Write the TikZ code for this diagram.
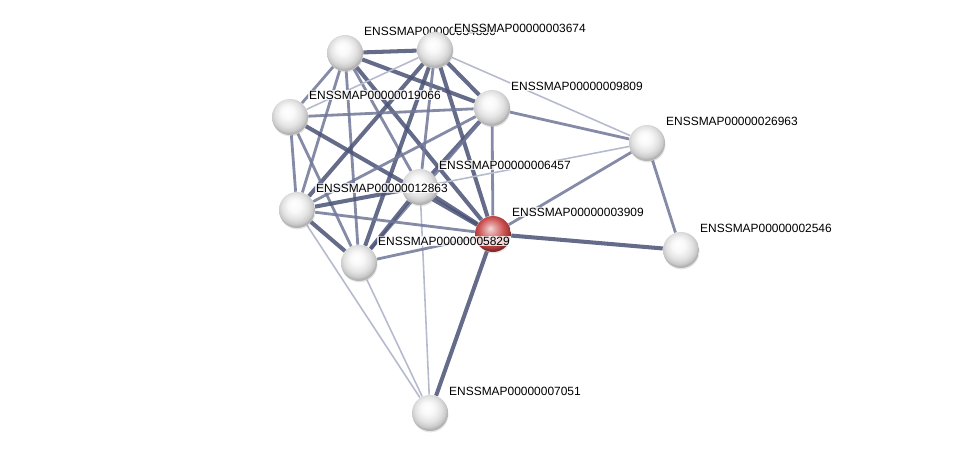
\documentclass[tikz,border=0pt]{standalone}
\usepackage{fontspec}
\setmainfont{Liberation Sans}
\usepackage{xcolor}
\usetikzlibrary{shadows,backgrounds}

\definecolor{edgedark}{RGB}{74,82,118}
\definecolor{edgemid}{RGB}{112,119,152}
\definecolor{edgelight}{RGB}{182,186,206}
\definecolor{redball}{RGB}{200,66,66}

\pgfdeclareradialshading{protball}{\pgfpoint{-4bp}{8bp}}{color(0bp)=(white); color(9bp)=(white!95!gray); color(18bp)=(gray!22); color(24bp)=(gray!42); color(26bp)=(gray!60); color(50bp)=(gray!60)}
\pgfdeclareradialshading{queryball}{\pgfpoint{-4bp}{8bp}}{color(0bp)=(white!80!redball); color(8bp)=(redball!55!white); color(17bp)=(redball!90!white); color(24bp)=(redball!85!black); color(26bp)=(redball!65!black); color(50bp)=(redball!65!black)}

\begin{document}
\begin{tikzpicture}[
    x=0.02cm, y=-0.02cm,
    prot/.style={circle, minimum size=0.72cm, inner sep=0pt, shading=protball, drop shadow={opacity=0.2, shadow xshift=0.3pt, shadow yshift=-0.8pt}},
    query/.style={prot, shading=queryball},
    lbl/.style={font=\fontsize{6.8}{8}\selectfont, fill=white, fill opacity=0.8, text opacity=1, inner sep=0.6pt, anchor=west, label distance=0.2cm},
    strong/.style={draw=edgedark, line width=2.3pt, opacity=0.85},
    medium/.style={draw=edgemid, line width=1.6pt, opacity=0.85},
    weak/.style={draw=edgelight, line width=0.9pt}
]
    \useasboundingbox (0,0) rectangle (975,458);

    % proteins
    \node [prot, label={[lbl]51:ENSSMAP00000034856}] (n4856) at (345,53) {};
    \node [prot, label={[lbl]51:ENSSMAP00000003674}] (n3674) at (435,50) {};
    \node [prot, label={[lbl]51:ENSSMAP00000019066}] (n9066) at (290,117) {};
    \node [prot, label={[lbl]51:ENSSMAP00000009809}] (n9809) at (492,108) {};
    \node [prot, label={[lbl]51:ENSSMAP00000026963}] (n6963) at (647,143) {};
    \node [prot, label={[lbl]51:ENSSMAP00000006457}] (n6457) at (420,187) {};
    \node [prot, label={[lbl]51:ENSSMAP00000012863}] (n2863) at (297,210) {};
    \node [prot, label={[lbl]51:ENSSMAP00000002546}] (n2546) at (681,250) {};
    \node [query, label={[lbl]51:ENSSMAP00000003909}] (n3909) at (493,234) {};
    \node [prot, label={[lbl]51:ENSSMAP00000005829}] (n5829) at (359,263) {};
    \node [prot, label={[lbl]51:ENSSMAP00000007051}] (n7051) at (430,413) {};

    % interactions
    \begin{scope}[on background layer]
    \draw [strong] (n4856) -- (n3674);
    \draw [medium] (n4856) -- (n9066);
    \draw [strong] (n4856) -- (n9809);
    \draw [medium] (n4856) -- (n6457);
    \draw [medium] (n4856) -- (n2863);
    \draw [medium] (n4856) -- (n5829);
    \draw [strong] (n4856) -- (n3909);
    \draw [weak] (n3674) -- (n9066);
    \draw [strong] (n3674) -- (n9809);
    \draw [weak] (n3674) -- (n6963);
    \draw [medium] (n3674) -- (n6457);
    \draw [strong] (n3674) -- (n2863);
    \draw [strong] (n3674) -- (n5829);
    \draw [strong] (n3674) -- (n3909);
    \draw [medium] (n9066) -- (n9809);
    \draw [medium] (n9066) -- (n2863);
    \draw [medium] (n9066) -- (n5829);
    \draw [strong] (n9066) -- (n3909);
    \draw [medium] (n9809) -- (n6963);
    \draw [strong] (n9809) -- (n6457);
    \draw [medium] (n9809) -- (n2863);
    \draw [medium] (n9809) -- (n5829);
    \draw [medium] (n9809) -- (n3909);
    \draw [weak] (n6963) -- (n6457);
    \draw [medium] (n6963) -- (n3909);
    \draw [medium] (n6963) -- (n2546);
    \draw [strong] (n6457) -- (n2863);
    \draw [strong] (n6457) -- (n5829);
    \draw [strong] (n6457) -- (n3909);
    \draw [weak] (n6457) -- (n7051);
    \draw [medium] (n2863) -- (n3909);
    \draw [strong] (n2863) -- (n5829);
    \draw [weak] (n2863) -- (n7051);
    \draw [medium] (n5829) -- (n3909);
    \draw [weak] (n5829) -- (n7051);
    \draw [strong] (n3909) -- (n2546);
    \draw [strong] (n3909) -- (n7051);
    \end{scope}
\end{tikzpicture}
\end{document}
